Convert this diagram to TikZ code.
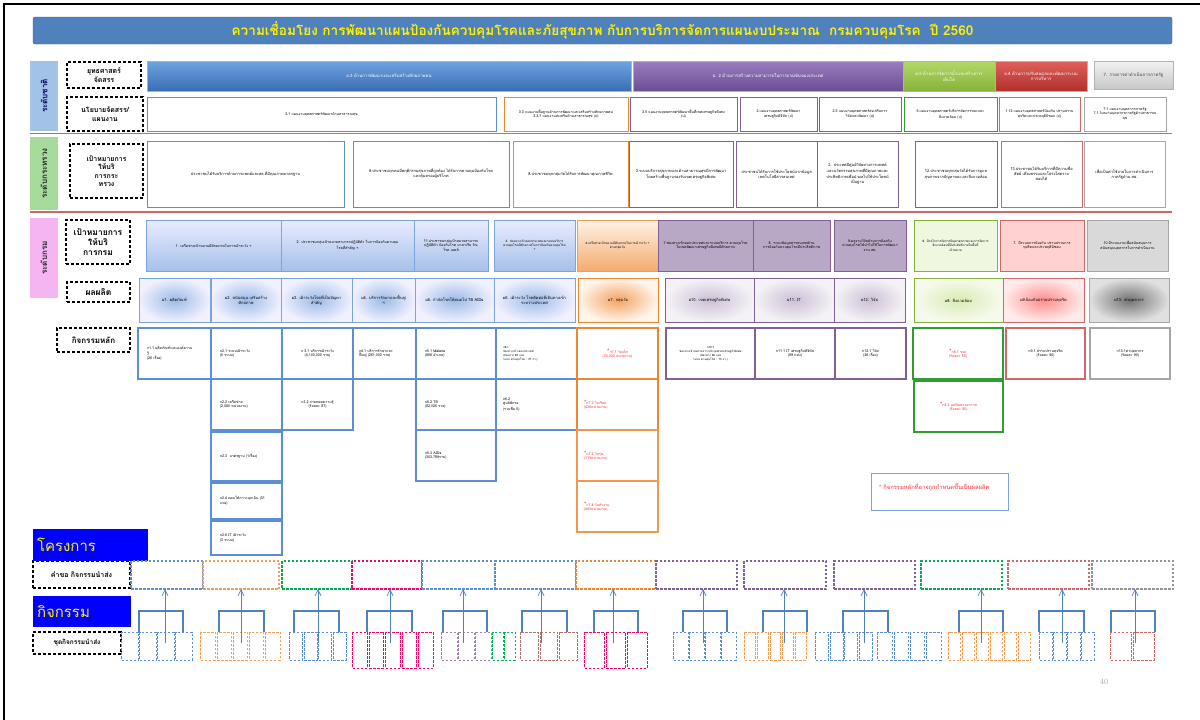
\documentclass[tikz,border=0pt]{standalone}
\usepackage{fontspec}
\newfontfamily\thai[Script=Thai]{Loma}
\usetikzlibrary{arrows.meta}
\definecolor{cblue}{HTML}{5B8ED6}
\definecolor{corange}{HTML}{EE8630}
\definecolor{cpurple}{HTML}{7F6196}
\definecolor{cgreen}{HTML}{2E9E2E}
\definecolor{cred}{HTML}{D06868}
\definecolor{cgray}{HTML}{A6A6A6}
\definecolor{ccrim}{HTML}{FF0066}
\definecolor{cbrown}{HTML}{B0746E}
\definecolor{cdgreen}{HTML}{00B050}
\definecolor{tred}{HTML}{FF3030}
\definecolor{linkblue}{HTML}{4F81BD}
\definecolor{s1top}{HTML}{6FA3E0}
\definecolor{s1bot}{HTML}{3A6DB5}
\definecolor{s2top}{HTML}{9A7EC0}
\definecolor{s2bot}{HTML}{6B4D95}
\definecolor{s3top}{HTML}{B4D86A}
\definecolor{s3bot}{HTML}{86B23A}
\definecolor{s4top}{HTML}{E0605B}
\definecolor{s4bot}{HTML}{B0302C}
\definecolor{v1fill}{HTML}{A3C2E8}
\definecolor{v2fill}{HTML}{A6DB9C}
\definecolor{v3fill}{HTML}{F5B4F2}
\newcommand{\bx}[8][6]{%
  \pgfmathsetmacro\bw{#6-#4}\pgfmathsetmacro\bh{#7-#5}\pgfmathsetmacro\tw{max(#6-#4-#1,4)}%
  \node[box,#3,minimum width=\bw pt,minimum height=\bh pt,text width=\tw pt] (#2) at ({(#4+#6)/2},{(#5+#7)/2}) {#8};}
\newcommand{\grp}[6]{%
  \pgfmathsetmacro\gW{#4-#3}\pgfmathsetmacro\gH{#6-632}\pgfmathsetmacro\gw{(#4-#3)/#5}%
  \node[inner sep=0pt,outer sep=0pt,minimum width=\gW pt,minimum height=\gH pt] (#1) at ({(#3+#4)/2},{(632+#6)/2}) {};
  \foreach \i in {1,...,#5}{\draw[gdash,draw=#2] ({#3+(\i-1)*\gw+0.9},632) rectangle ({#3+\i*\gw-0.9},#6);}}
\newcommand{\lnk}[5]{%
  \coordinate (L) at (#3,611); \coordinate (R) at (#4,611); \coordinate (A) at (#5,643);
  \draw[brk] (L |- #2.north) -- (L) -- (R) -- (R |- #2.north);
  \draw[arr] (A) -- (A |- #1.south);}
\tikzset{
  box/.style={inner sep=1pt,outer sep=0pt,align=center,font=\thai\fontsize{3.6}{4.6}\selectfont},
  strat/.style={font=\thai\fontsize{4.4}{5.6}\selectfont,text=white,draw=white!70!black,line width=0.3pt},
  plan/.style={fill=white,line width=1pt},
  tgt/.style={fill=white,line width=1pt,font=\thai\fontsize{3.9}{5}\selectfont},
  dgoal/.style={line width=0.9pt,font=\thai\fontsize{3.6}{4.6}\selectfont},
  outp/.style={line width=1pt,font=\thai\fontsize{4}{5}\selectfont},
  act/.style={fill=white,line width=1.1pt,align=left},
  ract/.style={act,text=tred},
  lab/.style={draw=black,dash pattern=on 3pt off 2pt,line width=1.3pt,inner sep=1pt,outer sep=0pt,align=center,font=\thai\bfseries\fontsize{7}{8.4}\selectfont},
  vlab/.style={rotate=90,inner sep=0pt,outer sep=0pt,font=\thai\bfseries\fontsize{8}{9}\selectfont},
  bluebox/.style={fill=blue,text=yellow,inner sep=0pt,outer sep=0pt,text width=105pt,align=left,font=\thai\fontsize{15}{17}\selectfont},
  qbox/.style={dash pattern=on 2.5pt off 1.5pt,line width=1.1pt,fill=white,inner sep=0pt,outer sep=0pt},
  gdash/.style={dash pattern=on 2.5pt off 1.5pt,line width=1pt},
  brk/.style={draw=linkblue,line width=1.3pt},
  arr/.style={draw=linkblue,line width=0.7pt,-{Straight Barb[length=6pt,width=6pt]}},
}
\begin{document}
\begin{tikzpicture}[x=1pt,y=-1pt]
\useasboundingbox (0,0) rectangle (1200,720);
\fill[white] (0,0) rectangle (1200,720);
\draw[line width=2.2pt] (4,720) -- (4,4) -- (1200,4);
% title
\node[fill=linkblue,draw=linkblue!80!black,rounded corners=2pt,minimum width=1139pt,minimum height=27pt,inner sep=0pt,text=yellow,font=\thai\bfseries\fontsize{13.6}{15}\selectfont] (title) at (602.5,30.5) {ความเชื่อมโยง การพัฒนาแผนป้องกันควบคุมโรคและภัยสุขภาพ กับการบริการจัดการแผนงบประมาณ\ \ กรมควบคุมโรค\ \ ปี 2560};
% level labels
\node[vlab,fill=v1fill,text=blue!35!black,minimum width=70pt,minimum height=28pt] (v1) at (44,96) {ระดับชาติ};
\node[vlab,fill=v2fill,text=black!85,minimum width=73pt,minimum height=28pt] (v2) at (44,173.5) {ระดับกระทรวง};
\node[vlab,fill=v3fill,text=black!85,minimum width=80pt,minimum height=28pt] (v3) at (44,258) {ระดับกรม};
% dashed labels
\bx[2]{l1}{lab}{67}{62}{141}{88}{ยุทธศาสตร์\\จัดสรร}
\bx[2]{l2}{lab}{67}{97}{143}{131}{นโยบายจัดสรร/\\แผนงาน}
\bx[2]{l3}{lab}{70}{144}{143}{198}{เป้าหมายการ\\ให้บริ\\การกระ\\ทรวง}
\bx[2]{l4}{lab,font=\thai\bfseries\fontsize{8.5}{10}\selectfont}{66}{220}{130}{264}{เป้าหมายการ\\ให้บริ\\การกรม}
\bx[2]{l5}{lab,font=\thai\bfseries\fontsize{8.5}{10}\selectfont}{67}{282}{130}{302}{ผลผลิต}
\bx[2]{l6}{lab,font=\thai\bfseries\fontsize{8}{10}\selectfont}{57}{328}{130}{352}{กิจกรรมหลัก}
\bx[2]{l7}{lab}{33}{561}{130}{588}{คำขอ กิจกรรมนำส่ง}
\bx[2]{l8}{lab,font=\thai\bfseries\fontsize{6.5}{8}\selectfont}{33}{632}{121}{654}{ชุดกิจกรรมนำส่ง}
% row 1 strategies
\bx{s1}{strat,top color=s1top,bottom color=s1bot}{147}{61}{631}{91}{ย.3 ด้านการพัฒนาและเสริมสร้างศักยภาพคน}
\bx{s2}{strat,top color=s2top,bottom color=s2bot}{633}{61}{903}{91}{ย. 2 ด้านการสร้างความสามารถในการแข่งขันของประเทศ}
\bx{s3}{strat,top color=s3top,bottom color=s3bot}{903}{61}{995}{91}{ย.5 ด้านการจัดการน้ำและสร้างการ\\เติบโต}
\bx{s4}{strat,top color=s4top,bottom color=s4bot}{995}{61}{1087}{91}{ย.4 ด้านการปรับสมดุลและพัฒนาระบบ\\การบริหาร}
\bx{s5}{strat,text=black!75,top color=white!95!black,bottom color=black!22}{1094}{61}{1173}{89}{7. รายการค่าดำเนินการภาครัฐ}
% row 2 plans
\bx{p1}{plan,draw=cblue}{147}{97}{496}{131}{3.1 แผนงานยุทธศาสตร์พัฒนาด้านสาธารณสุข}
\bx{p2}{plan,draw=corange}{504}{97}{628}{131}{3.3 แผนงานพื้นฐานด้านการพัฒนาและเสริมสร้างศักยภาพคน\\3.3.1 แผนงานส่งเสริมด้านสาธารณสุข (ป)}
\bx{p3}{plan,draw=cpurple}{630}{97}{737}{131}{2.5 แผนงานยุทธศาสตร์พัฒนาพื้นที่เขตเศรษฐกิจพิเศษ\\(ป)}
\bx{p4}{plan,draw=cpurple}{740}{97}{817}{131}{2.แผนงานยุทธศาสตร์พัฒนา\\เศรษฐกิจดิจิทัล (ป)}
\bx{p5}{plan,draw=cpurple}{819}{97}{901}{131}{2.5 แผนงานยุทธศาสตร์ส่งเสริมการ\\วิจัยและพัฒนา (ป)}
\bx{p6}{plan,draw=cgreen}{904}{97}{997}{131}{5.แผนงานยุทธศาสตร์บริหารจัดการขยะและ\\สิ่งแวดล้อม (ป)}
\bx{p7}{plan,draw=cred}{999}{97}{1080}{131}{1.12 แผนงานยุทธศาสตร์ป้องกัน ปราบปราม\\ทุจริตและประพฤติมิชอบ (ป)}
\bx{p8}{plan,draw=cgray}{1084}{97}{1166}{131}{7.1 แผนงานบุคลากรภาครัฐ\\7.1.1ผลงานบุคลากรภาครัฐด้านสาธารณ\\สุข}
\draw[cred,line width=1.8pt] (30,133.5) -- (1172,133.5);
% row 3 ministry targets
\bx{m1}{tgt,draw=cblue}{147}{141}{344}{207}{ประชาชนได้รับบริการด้านการแพทย์และสธ.ที่มีคุณภาพมาตรฐาน}
\bx{m2}{tgt,draw=cblue}{353}{141}{509}{207}{9.ประชาชนทุกคนมีพฤติกรรมสุขภาพที่ถูกต้อง ได้รับการควบคุมป้องกันโรค\\และคุ้มครองผู้บริโภค}
\bx{m3}{tgt,draw=corange}{513}{141}{628}{207}{8.ประชาชนทุกกลุ่มวัยได้รับการพัฒนาคุณภาพชีวิต}
\bx{m4}{tgt,draw=cpurple}{629}{141}{733}{207}{3.ระบบบริการสุขภาพและด้านสาธารณสุขมีการพัฒนา\\โดยสร้างพื้นฐานรองรับเขตเศรษฐกิจพิเศษ}
\bx{m5}{tgt,draw=cpurple}{736}{141}{817}{207}{ประชาชนได้รับการใช้ประโยชน์จากข้อมูล\\เทคโนโลยีสารสนเทศ}
\bx{m6}{tgt,draw=cpurple}{817}{141}{898}{207}{2. ประเทศมีศูนย์วิจัยทางการแพทย์\\และนวัตกรรมสุขภาพที่มีคุณภาพและ\\ประสิทธิภาพเพื่อนำผลไปใช้ประโยชน์\\เป็นฐาน}
\bx{m7}{tgt,draw=cgreen}{915}{141}{997}{207}{12.ประชาชนทุกกลุ่มวัยได้รับการดูแล\\สุขภาพจากปัญหาขยะและสิ่งแวดล้อม}
\bx{m8}{tgt,draw=cred}{1001}{141}{1082}{207}{13.ประชาชนได้รับบริการที่มีความซื่อ\\สัตย์ เที่ยงธรรมและโปร่งใสตรวจ\\สอบได้}
\bx{m9}{tgt,draw=cgray}{1084}{141}{1165}{207}{เพื่อเป็นค่าใช้จ่ายในการดำเนินการ\\ภาครัฐด้าน สธ.}
\draw[cred,line width=1.8pt] (30,212) -- (1172,212);
% row 4 department targets
\bx{d1}{dgoal,draw=cblue!80,top color=blue!8,bottom color=cblue!55}{146}{220}{281}{271}{1. เครือข่ายเป้าหมายมีศักยภาพในการเฝ้าระวัง ฯ}
\bx{d2}{dgoal,draw=cblue!80,top color=blue!8,bottom color=cblue!55}{281}{220}{414}{271}{2. ประชาชนกลุ่มเป้าหมายสามารถปฏิบัติตัว ในการป้องกันควบคุม\\โรคที่สำคัญ ฯ}
\bx{d3}{dgoal,draw=cblue!80,top color=blue!8,bottom color=cblue!55}{414}{220}{488}{271}{11.ประชาชนกลุ่มเป้าหมายสามารถ\\ปฏิบัติตัว ป้องกันโรค มาลาเรีย วัณ\\โรค เอดส์}
\bx{d4}{dgoal,draw=cblue!80,top color=blue!8,bottom color=cblue!55,font=\thai\fontsize{3.1}{4.2}\selectfont}{494}{220}{575}{271}{3. ช่องทางเข้าออกประเทศและระบบบริการ\\ควบคุมโรคมีศักยภาพในการป้องกันควบคุมโรค\\ฯ}
\bx{d5}{dgoal,draw=corange!80,top color=orange!10,bottom color=corange!70,font=\thai\fontsize{3.1}{4.2}\selectfont}{577}{220}{658}{271}{4.เครือข่ายเป้าหมายมีศักยภาพในการเฝ้าระวัง ฯ\\ตามกลุ่มวัย}
\bx{d6}{dgoal,draw=cpurple,fill=cpurple!55}{658}{220}{753}{271}{7.ช่องทางเข้าออกประเทศและระบบบริการ ควบคุมโรค\\ในเขตพัฒนาเศรษฐกิจพิเศษมีศักยภาพ}
\bx{d7}{dgoal,draw=cpurple,fill=cpurple!55}{753}{220}{830}{271}{8. ระบบข้อมูลสารสนเทศด้าน\\การป้องกันควบคุมโรคมีประสิทธิภาพ}
\bx{d8}{dgoal,draw=cpurple,fill=cpurple!55}{834}{220}{906}{271}{9.ผลงานวิจัยด้านการป้องกัน\\ควบคุมโรคได้นำไปใช้ในการพัฒนา\\งาน สธ.}
\bx{d9}{dgoal,draw=s3bot,fill=s3top!20,font=\thai\fontsize{3.1}{4.2}\selectfont}{914}{220}{997}{271}{6. มีกลไกการจัดการปัญหาสุขภาพและการจัดการ\\สิ่งแวดล้อมที่มีประสิทธิภาพในพื้นที่\\เป้าหมาย}
\bx{d10}{dgoal,draw=cred,fill=red!18}{1000}{220}{1084}{271}{7. มีระบบการป้องกัน ปราบปรามการ\\ทุจริตและประพฤติมิชอบ}
\bx{d11}{dgoal,draw=cgray,fill=black!15}{1087}{220}{1168}{271}{10.มีระบบงานเพื่อสนับสนุนการ\\สนับสนุนบุคลากรในการดำเนินงาน}
% row 5 outputs
\bx{o1}{outp,draw=cblue!80,inner color=cblue!60,outer color=blue!6}{139}{278}{210}{322}{ผ1. ผลิตภัณฑ์}
\bx{o2}{outp,draw=cblue!80,inner color=cblue!60,outer color=blue!6}{211}{278}{281}{322}{ผ2. สนับสนุน เสริมสร้าง\\ศักยภาพ}
\bx{o3}{outp,draw=cblue!80,inner color=cblue!60,outer color=blue!6}{281}{278}{352}{322}{ผ3. เฝ้าระวังโรคที่เป็นปัญหา\\สำคัญ}
\bx{o4}{outp,draw=cblue!80,inner color=cblue!60,outer color=blue!6}{352}{278}{415}{322}{ผ4. บริการรักษาและฟื้นฟู\\ฯ}
\bx{o5}{outp,draw=cblue!80,inner color=cblue!60,outer color=blue!6}{415}{278}{494}{322}{ผ5. กำจัดโรคให้หมดไป TB AIDs}
\bx{o6}{outp,draw=cblue!80,inner color=cblue!60,outer color=blue!6}{494}{278}{575}{322}{ผ6. เฝ้าระวัง โรคติดต่อที่เดินทางเข้า\\ระหว่างประเทศ}
\bx{o7}{outp,draw=corange,inner color=corange!75,outer color=orange!8}{578}{278}{658}{322}{ผ7. กลุ่มวัย}
\bx{o8}{outp,draw=cpurple,inner color=cpurple!40,outer color=cpurple!8}{665}{278}{754}{322}{ผ10. เขตเศรษฐกิจพิเศษ}
\bx{o9}{outp,draw=cpurple,inner color=cpurple!40,outer color=cpurple!8}{754}{278}{834}{322}{ผ11. IT}
\bx{o10}{outp,draw=cpurple,inner color=cpurple!40,outer color=cpurple!8}{834}{278}{905}{322}{ผ12. วิจัย}
\bx{o11}{outp,draw=s3bot,inner color=s3top!50,outer color=s3top!12}{914}{278}{1003}{322}{ผ8. สิ่งแวดล้อม}
\bx{o12}{outp,draw=cred,inner color=red!45,outer color=red!8}{1003}{278}{1084}{322}{ผ9.ป้องกันปราบปรามทุจริต}
\bx{o13}{outp,draw=cgray,inner color=black!55,outer color=black!12}{1089}{278}{1169}{322}{ผ13. ค่าบุคลากร}
% row 6 main activities
\bx[18]{a11}{act,draw=cblue}{138}{328}{211}{379}{ก1.1 ผลิตภัณฑ์และองค์ความ\\รู้\\(26 เรื่อง)}
\bx[18]{a21}{act,draw=cblue}{211}{328}{282}{379}{ก2.1 ระบบเฝ้าระวัง\\(5 ระบบ)}
\bx[18]{a22}{act,draw=cblue}{211}{379}{282}{430}{ก2.2 เครือข่าย\\(2,080 หน่วยงาน)}
\bx[18]{a23}{act,draw=cblue}{211}{432}{282}{481}{ก2.3\ \ มาตรฐาน (1เรื่อง)}
\bx[18]{a24}{act,draw=cblue}{211}{483}{282}{519}{ก2.4 ตอบโต้ภาวะฉุกเฉิน (31\\แห่ง)}
\bx[18]{a26}{act,draw=cblue}{211}{521}{282}{555}{ก2.6 IT เฝ้าระวัง\\(3 ระบบ)}
\bx[8]{a31}{act,align=center,draw=cblue}{282}{328}{353}{379}{ก 3.1 บริการเฝ้าระวัง\\(4,103,300 ราย)}
\bx[8]{a32}{act,align=center,draw=cblue}{282}{379}{353}{430}{ก3.2 ถ่ายทอดความรู้\\(ร้อยละ 87)}
\bx[12]{a41}{act,draw=cblue}{353}{328}{416}{379}{ก4.1 บริการรักษาและ\\ฟื้นฟู (261,000 ราย)}
\bx[18]{a51}{act,draw=cblue}{416}{328}{496}{379}{ก5.1 Malaria\\(856 อำเภอ)}
\bx[18]{a52}{act,draw=cblue}{416}{379}{496}{430}{ก5.2 TB\\(82,025 ราย)}
\bx[18]{a53}{act,draw=cblue}{416}{430}{496}{481}{ก5.3 AIDs\\(303,789ราย)}
\bx[14]{a61}{act,draw=cblue,font=\thai\fontsize{2.9}{4}\selectfont}{496}{328}{577}{379}{ก6.1\\ช่องทางเข้า-ออกประเทศ\\(ช่องทาง 62 แห่ง\\ระบบ ควบคุมโรค : 21 จว.)}
\bx[14]{a62}{act,draw=cblue}{496}{379}{577}{430}{ก6.2\\ศูนย์พักรอ\\(รวมชื่อ 5)}
\bx[8]{a71}{ract,align=center,draw=corange}{577}{328}{658}{379}{\fontsize{6}{4}\selectfont*\fontsize{3.6}{4.6}\selectfont ก7.1 วัยเด็ก\\(30,000 หน่วยงาน)}
\bx[14]{a72}{ract,draw=corange}{577}{379}{658}{430}{\fontsize{6}{4}\selectfont*\fontsize{3.6}{4.6}\selectfont ก7.2 วัยเรียน\\(436หน่วยงาน)}
\bx[14]{a73}{ract,draw=corange!85}{577}{430}{658}{481}{\fontsize{6}{4}\selectfont*\fontsize{3.6}{4.6}\selectfont ก7.3 วัยรุ่น\\(113หน่วยงาน)}
\bx[14]{a74}{ract,draw=corange!85}{577}{481}{658}{532}{\fontsize{6}{4}\selectfont*\fontsize{3.6}{4.6}\selectfont ก7.4 วัยทำงาน\\(443หน่วยงาน)}
\bx[6]{a101}{act,align=center,draw=cpurple,font=\thai\fontsize{2.9}{4}\selectfont}{666}{328}{755}{379}{ก10.1\\ช่องทางเข้าออกระหว่างประเทศเขตเศรษฐกิจพิเศษ\\(ช่องทาง 26 แห่ง\\ระบบ ควบคุมโรค : 10 จว.)}
\bx[6]{a111}{act,align=center,draw=cpurple}{755}{328}{835}{379}{ก11.1 IT เศรษฐกิจดิจิทัล\\(89 แห่ง)}
\bx[6]{a121}{act,align=center,draw=cpurple}{835}{328}{906}{379}{ก12.1 วิจัย\\(36 เรื่อง)}
\bx[6]{a81}{ract,align=center,draw=cgreen}{913}{328}{1003}{379}{\fontsize{6}{4}\selectfont*\fontsize{3.6}{4.6}\selectfont ก8.1 ขยะ\\(ร้อยละ 80)}
\bx[6]{a82}{ract,align=center,draw=cgreen}{914}{381}{1003}{432}{\fontsize{6}{4}\selectfont*\fontsize{3.6}{4.6}\selectfont ก8.2 มลพิษทางอากาศ\\(ร้อยละ 80)}
\bx[6]{a91}{act,align=center,draw=cred}{1006}{328}{1085}{379}{ก9.1 ปราบปรามทุจริต\\(ร้อยละ 90)}
\bx[6]{a131}{act,align=center,draw=cgray}{1090}{328}{1170}{379}{ก13.1ค่าบุคลากร\\(ร้อยละ 90)}
% note
\node[draw=cblue!80,line width=1pt,fill=white,minimum width=137pt,minimum height=37pt,inner sep=0pt] (note) at (939.5,491.5) {};
\node[anchor=west,text=tred,inner sep=0pt,font=\thai\fontsize{5.8}{7}\selectfont] (notetxt) at (879,487) {* กิจกรรมหลักที่อาจถูกกำหนดขึ้นเป็นผลผลิต};
% project / activity blocks
\bx[8]{proj}{bluebox}{33}{529}{148}{561}{โครงการ}
\bx[8]{actv}{bluebox}{33}{596}{131}{627}{กิจกรรม}
% request row
\bx{q1}{qbox,draw=cblue}{131}{561}{203}{589}{}
\bx{q2}{qbox,draw=corange!80}{203}{561}{279}{589}{}
\bx{q3}{qbox,draw=cdgreen}{282}{561}{352}{589}{}
\bx{q4}{qbox,draw=ccrim}{352}{561}{422}{589}{}
\bx{q5}{qbox,draw=cblue}{422}{561}{495}{589}{}
\bx{q6}{qbox,draw=cblue}{495}{561}{576}{589}{}
\bx{q7}{qbox,draw=corange}{576}{561}{656}{589}{}
\bx{q8}{qbox,draw=cpurple}{656}{561}{737}{589}{}
\bx{q9}{qbox,draw=cpurple}{744}{561}{826}{589}{}
\bx{q10}{qbox,draw=cpurple}{834}{561}{915}{589}{}
\bx{q11}{qbox,draw=cdgreen}{921}{561}{1002}{589}{}
\bx{q12}{qbox,draw=cred}{1008}{561}{1089}{589}{}
\bx{q13}{qbox,draw=cgray!90!black}{1092}{561}{1173}{589}{}
% activity sets
\grp{g1}{cblue}{121}{193}{4}{660}
\grp{g2}{corange!80}{200}{281}{5}{660}
\grp{g3}{cblue}{289}{347}{4}{660}
\grp{g4}{ccrim}{352}{434}{5}{668}
\grp{g5}{cpurple!80}{441}{492}{3}{660}
\grp{g6}{cdgreen}{492}{516}{2}{660}
\grp{g7}{cbrown}{520}{578}{3}{660}
\grp{g8}{ccrim}{584}{648}{3}{668}
\grp{g9}{cblue}{673}{737}{4}{660}
\grp{g10}{corange!80}{744}{807}{5}{660}
\grp{g11}{cblue}{815}{873}{4}{660}
\grp{g12}{cblue}{877}{942}{4}{660}
\grp{g13}{corange!80}{948}{1031}{6}{660}
\grp{g14}{cblue}{1039}{1095}{4}{660}
\grp{g15}{cred}{1110}{1155}{2}{660}
% links
\lnk{q1}{g1}{139}{183}{165}
\lnk{q2}{g2}{219}{264}{241}
\lnk{q3}{g3}{294}{339}{318}
\lnk{q4}{g4}{367}{412}{390}
\lnk{q5}{g5}{443}{487}{463}
\lnk{q6}{g7}{522}{567}{541}
\lnk{q7}{g8}{594}{638}{613}
\lnk{q8}{g9}{683}{727}{703}
\lnk{q9}{g10}{763}{807}{784}
\lnk{q10}{g11}{843}{888}{864}
\lnk{q11}{g13}{959}{1003}{981}
\lnk{q12}{g14}{1039}{1084}{1062}
\lnk{q13}{g15}{1111}{1155}{1135}
\node[text=black!35,font=\fontsize{8}{9}\selectfont] (pg) at (1104,682) {40};
\end{tikzpicture}
\end{document}
